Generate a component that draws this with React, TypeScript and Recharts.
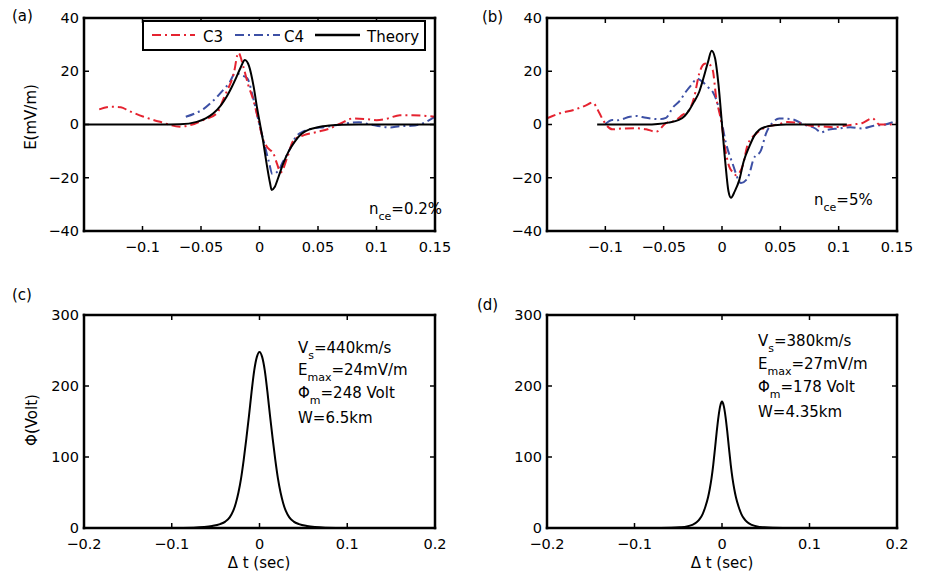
import React from 'react';
import { LineChart, Line, XAxis, YAxis } from 'recharts';

const FONT = '"DejaVu Sans", "Liberation Sans", sans-serif';
const RED = '#e52330';
const BLUE = '#3d50a5';

// ---- Panel (a): electric field, n_ce = 0.2%
const aTheoryT = [-0.15, -0.085, -0.068, -0.0536, -0.046, -0.0394, -0.033, -0.028, -0.024, -0.02, -0.016, -0.0125, -0.009, -0.005, -0.002, 0.0005, 0.003, 0.006, 0.009, 0.0104, 0.013, 0.016, 0.02, 0.025, 0.03, 0.036, 0.043, 0.05, 0.06, 0.07, 0.085, 0.15];
const aTheoryE = [0, 0, 0.1, 1, 2.3, 4.2, 7.2, 10.5, 13.8, 17.5, 21.5, 24.2, 22, 14.2, 6, 0, -6, -14.5, -22, -24.6, -23.5, -20, -15, -10, -6.5, -3.5, -1.8, -1, -0.4, -0.1, 0, 0];
const aC3T = [-0.137, -0.127, -0.1185, -0.112, -0.099, -0.085, -0.068, -0.059, -0.048, -0.0365, -0.03, -0.022, -0.018, -0.0138, -0.0096, -0.0053, -0.001, 0.0032, 0.0075, 0.0118, 0.015, 0.018, 0.024, 0.029, 0.038, 0.049, 0.06, 0.072, 0.08, 0.092, 0.1, 0.11, 0.12, 0.131, 0.143, 0.15];
const aC3E = [5.7, 6.7, 6.5, 5.2, 2.9, 1, -0.8, -0.2, 1.7, 4.2, 10.5, 19.2, 26.9, 21.7, 14.8, 9.2, 1.7, -5.8, -9, -10.8, -14.8, -18, -12, -6, -4, -2.8, -1.5, 1, 2.3, 2, 1.6, 2.3, 3.5, 3.5, 3.2, 2.9];
const aC4T = [-0.063, -0.055, -0.048, -0.042, -0.036, -0.031, -0.026, -0.0205, -0.0155, -0.0105, -0.005, 0.001, 0.004, 0.008, 0.011, 0.016, 0.02, 0.024, 0.031, 0.038, 0.046, 0.055, 0.065, 0.075, 0.085, 0.095, 0.105, 0.112, 0.12, 0.13, 0.14, 0.15];
const aC4E = [2.9, 4.2, 5.8, 8, 10.5, 13, 15.5, 19.3, 18.5, 17.4, 9.2, -2, -7, -14, -18.6, -17.4, -14, -11, -4.7, -2.5, -1.5, -1, -0.3, 0.5, 0.8, 0, -0.8, -1.1, -0.6, -0.5, 0.5, 3];

// ---- Panel (b): electric field, n_ce = 5%
const bTheoryT = [-0.107, -0.065, -0.055, -0.046, -0.037, -0.032, -0.028, -0.024, -0.0195, -0.0155, -0.012, -0.0089, -0.006, -0.003, 0, 0.003, 0.0055, 0.0077, 0.011, 0.0148, 0.0185, 0.0234, 0.028, 0.032, 0.038, 0.045, 0.055, 0.107];
const bTheoryE = [0, 0, 0.2, 0.7, 1.7, 3.2, 5.5, 8.5, 12.3, 18, 23.5, 27.7, 25, 15, 0, -15, -25, -27.5, -25, -20.9, -14, -8.3, -4, -2, -0.8, -0.3, 0, 0];
const bC3T = [-0.15, -0.139, -0.127, -0.117, -0.111, -0.105, -0.102, -0.094, -0.085, -0.074, -0.065, -0.0566, -0.048, -0.04, -0.0338, -0.028, -0.0237, -0.0195, -0.015, -0.0123, -0.008, -0.0051, -0.0009, 0.0034, 0.0063, 0.0105, 0.012, 0.0177, 0.022, 0.029, 0.0377, 0.048, 0.056, 0.066, 0.076, 0.086, 0.096, 0.105, 0.112, 0.12, 0.129, 0.135, 0.142, 0.15];
const bC3E = [2.3, 4.2, 5.5, 7.1, 8.2, 4.2, 1.7, -1.8, -1.5, -1.4, -1.8, -2.7, 0.5, 1.5, 3.6, 5.5, 10.5, 19.2, 22.8, 23, 20.5, 10.5, 1.7, -10.8, -15.9, -18.4, -19.1, -15.5, -7.6, -3.6, -1, 0, 0.9, 0.5, -0.5, -0.7, -1, -0.5, 0, 0.5, 2.3, 0, 0, 0.5];
const bC4T = [-0.1, -0.094, -0.0895, -0.079, -0.074, -0.065, -0.054, -0.048, -0.042, -0.036, -0.031, -0.026, -0.0215, -0.0166, -0.012, -0.008, -0.0023, 0.0034, 0.009, 0.0163, 0.0206, 0.0234, 0.027, 0.0334, 0.0377, 0.043, 0.049, 0.06, 0.07, 0.08, 0.085, 0.09, 0.1, 0.11, 0.12, 0.13, 0.14, 0.15];
const bC4E = [0.2, 1.7, 1.6, 2.9, 3.2, 2.5, 2, 2.5, 6.5, 9, 12.3, 15, 17.2, 16, 14, 12.3, 5.5, -7, -14.6, -22, -20.9, -18.6, -13, -9.7, -3.4, 0.5, 2.3, 2, 0, -1.5, -3, -2, -1.5, -1, -1.5, -0.5, 0, 1.5];

// ---- Panel (c): potential
const cPhiT = [-0.2, -0.1, -0.09, -0.075, -0.063, -0.054, -0.045, -0.039, -0.034, -0.03, -0.027, -0.024, -0.021, -0.018, -0.015, -0.012, -0.009, -0.006, -0.003, 0, 0.003, 0.006, 0.009, 0.012, 0.015, 0.018, 0.021, 0.024, 0.027, 0.03, 0.034, 0.039, 0.045, 0.054, 0.063, 0.075, 0.09, 0.1, 0.2];
const cPhiV = [0, 0, 0.1, 0.4, 1.3, 2.8, 5.5, 9, 15, 24, 35, 50, 70, 96, 126, 158, 192, 222, 241, 248, 241, 222, 192, 158, 126, 96, 70, 50, 35, 24, 15, 9, 5.5, 2.8, 1.3, 0.4, 0.1, 0, 0];

// ---- Panel (d): potential
const dPhiT = [-0.2, -0.07, -0.058, -0.048, -0.04, -0.034, -0.029, -0.025, -0.022, -0.019, -0.016, -0.014, -0.012, -0.01, -0.008, -0.006, -0.004, -0.002, 0, 0.002, 0.004, 0.006, 0.008, 0.01, 0.012, 0.014, 0.016, 0.019, 0.022, 0.025, 0.029, 0.034, 0.04, 0.048, 0.058, 0.07, 0.2];
const dPhiV = [0, 0, 0.2, 0.9, 2.2, 4.5, 8, 13.5, 20, 30, 43, 55, 70, 89, 112, 136, 157, 172, 178, 172, 157, 136, 112, 89, 70, 55, 43, 30, 20, 13.5, 8, 4.5, 2.2, 0.9, 0.2, 0, 0];

// ---- Axes
const eXTicks = [-0.15, -0.1, -0.05, 0, 0.05, 0.1, 0.15];
const eYTicks = [-40, -20, 0, 20, 40];
const pXTicks = [-0.2, -0.1, 0, 0.1, 0.2];
const pYTicks = [0, 100, 200, 300];
const eXDomain = [-0.15, 0.15];
const eYDomain = [-40, 40];
const pXDomain = [-0.2, 0.2];
const pYDomain = [0, 300];
const hiddenXLabels = [-0.15];

const legendLabels = ['C3', 'C4', 'Theory'];

const zip = (t: number[], v: number[]) => t.map((x, i) => ({ t: x, v: v[i] }));
const fmt = (v: number) => String(v).replace('-', '\u2212');

const TICK_FS = 14.5;
const TL = 5;

const BottomTick = (p: any) => {
  const { x, y, payload } = p;
  const show = !hiddenXLabels.includes(payload.value);
  return (
    <g>
      <line x1={x} x2={x} y1={y} y2={y - TL} stroke="#000" strokeWidth={1.5} />
      {show && (
        <text x={x} y={y + 21} textAnchor="middle" fontSize={TICK_FS} fontFamily={FONT} fill="#000">
          {fmt(payload.value)}
        </text>
      )}
    </g>
  );
};
const TopTick = (p: any) => {
  const { x, y } = p;
  return <line x1={x} x2={x} y1={y} y2={y + TL} stroke="#000" strokeWidth={1.5} />;
};
const LeftTick = (p: any) => {
  const { x, y, payload } = p;
  return (
    <g>
      <line x1={x} x2={x + TL} y1={y} y2={y} stroke="#000" strokeWidth={1.5} />
      <text x={x - 5} y={y} dy="0.34em" textAnchor="end" fontSize={TICK_FS} fontFamily={FONT} fill="#000">
        {fmt(payload.value)}
      </text>
    </g>
  );
};
const RightTick = (p: any) => {
  const { x, y } = p;
  return <line x1={x} x2={x - TL} y1={y} y2={y} stroke="#000" strokeWidth={1.5} />;
};

const axisLine = { stroke: '#000', strokeWidth: 2.5, strokeLinecap: 'square' as const };

type Series = { key: string; data: { t: number; v: number }[]; color: string; dash?: string };

function Panel(props: {
  left: number; top: number; width: number; height: number; mTop: number; mRight: number;
  yW: number; xH: number; xDomain: number[]; yDomain: number[]; xTicks: number[]; yTicks: number[]; series: Series[];
}) {
  const { left, top, width, height, mTop, mRight, yW, xH, xDomain, yDomain, xTicks, yTicks, series } = props;
  return (
    <div style={{ position: 'absolute', left, top, width, height }}>
      <LineChart width={width} height={height} margin={{ top: mTop, right: mRight, left: 0, bottom: 0 }}>
        <XAxis xAxisId="b" dataKey="t" type="number" domain={xDomain} ticks={xTicks} interval={0}
          height={xH} tickSize={0} tickMargin={0} tickLine={false} axisLine={axisLine}
          tick={(p: any) => <BottomTick {...p} />} allowDataOverflow />
        <XAxis xAxisId="t" orientation="top" dataKey="t" type="number" domain={xDomain} ticks={xTicks} interval={0}
          height={1} tickSize={0} tickMargin={0} tickLine={false} axisLine={axisLine}
          tick={(p: any) => <TopTick {...p} />} allowDataOverflow />
        <YAxis yAxisId="l" type="number" domain={yDomain} ticks={yTicks} interval={0}
          width={yW} tickSize={0} tickMargin={0} tickLine={false} axisLine={axisLine}
          tick={(p: any) => <LeftTick {...p} />} allowDataOverflow />
        <YAxis yAxisId="r" orientation="right" type="number" domain={yDomain} ticks={yTicks} interval={0}
          width={1} tickSize={0} tickMargin={0} tickLine={false} axisLine={axisLine}
          tick={(p: any) => <RightTick {...p} />} allowDataOverflow />
        {series.map((s) => (
          <Line key={s.key} xAxisId="b" yAxisId="l" data={s.data} dataKey="v" type="monotone"
            stroke={s.color} strokeWidth={2} strokeDasharray={s.dash} dot={false} activeDot={false}
            isAnimationActive={false} />
        ))}
      </LineChart>
    </div>
  );
}

const DASH = '9 4 2 4';

const Sub = ({ x, y, main, sub, rest, fs = 15 }: { x: number; y: number; main: string; sub: string; rest: string; fs?: number }) => (
  <text x={x} y={y} fontSize={fs} fontFamily={FONT} fill="#000">
    {main}
    <tspan dy={6} fontSize={11}>{sub}</tspan>
    <tspan dy={-6} fontSize={fs}>{rest}</tspan>
  </text>
);

export default function App() {
  return (
    <div style={{ position: 'absolute', left: 0, top: 0, width: 925, height: 577, background: '#fff' }}>
      <Panel left={0} top={0} width={460} height={290} mTop={17} mRight={24} yW={84} xH={59}
        xDomain={eXDomain} yDomain={eYDomain} xTicks={eXTicks} yTicks={eYTicks}
        series={[
          { key: 'c4', data: zip(aC4T, aC4E), color: BLUE, dash: DASH },
          { key: 'c3', data: zip(aC3T, aC3E), color: RED, dash: DASH },
          { key: 'th', data: zip(aTheoryT, aTheoryE), color: '#000' },
        ]} />
      <Panel left={461} top={0} width={464} height={290} mTop={17} mRight={27} yW={86} xH={59}
        xDomain={eXDomain} yDomain={eYDomain} xTicks={eXTicks} yTicks={eYTicks}
        series={[
          { key: 'c4', data: zip(bC4T, bC4E), color: BLUE, dash: DASH },
          { key: 'c3', data: zip(bC3T, bC3E), color: RED, dash: DASH },
          { key: 'th', data: zip(bTheoryT, bTheoryE), color: '#000' },
        ]} />
      <Panel left={0} top={290} width={460} height={287} mTop={24} mRight={24} yW={84} xH={49}
        xDomain={pXDomain} yDomain={pYDomain} xTicks={pXTicks} yTicks={pYTicks}
        series={[{ key: 'phi', data: zip(cPhiT, cPhiV), color: '#000' }]} />
      <Panel left={461} top={290} width={464} height={287} mTop={24} mRight={27} yW={86} xH={49}
        xDomain={pXDomain} yDomain={pYDomain} xTicks={pXTicks} yTicks={pYTicks}
        series={[{ key: 'phi', data: zip(dPhiT, dPhiV), color: '#000' }]} />

      <svg width={925} height={577} style={{ position: 'absolute', left: 0, top: 0, pointerEvents: 'none' }}>
        <g fontFamily={FONT} fontSize={15} fill="#000">
          <text x={12} y={21}>(a)</text>
          <text x={482} y={22}>(b)</text>
          <text x={12} y={300}>(c)</text>
          <text x={477} y={310}>(d)</text>

          <text transform="translate(36,117) rotate(-90)" textAnchor="middle">E(mV/m)</text>
          <text transform="translate(37,420) rotate(-90)" textAnchor="middle">Φ(Volt)</text>
          <text x={259} y={568} textAnchor="middle">Δ t (sec)</text>
          <text x={722} y={568} textAnchor="middle">Δ t (sec)</text>
        </g>

        {/* legend */}
        <rect x={143} y={21} width={282} height={29} fill="#fff" stroke="#000" strokeWidth={2} />
        <line x1={152} x2={195} y1={35} y2={35} stroke={RED} strokeWidth={2} strokeDasharray={DASH} />
        <text x={203} y={42} fontFamily={FONT} fontSize={15}>{legendLabels[0]}</text>
        <line x1={235} x2={280} y1={35} y2={35} stroke={BLUE} strokeWidth={2} strokeDasharray={DASH} />
        <text x={284} y={42} fontFamily={FONT} fontSize={15}>{legendLabels[1]}</text>
        <line x1={315} x2={360} y1={35} y2={35} stroke="#000" strokeWidth={2.5} />
        <text x={367} y={42} fontFamily={FONT} fontSize={15}>{legendLabels[2]}</text>

        <Sub x={369} y={214} main="n" sub="ce" rest="=0.2%" />
        <Sub x={814} y={205} main="n" sub="ce" rest="=5%" />

        <Sub x={298} y={353} main="V" sub="s" rest="=440km/s" />
        <Sub x={298} y={375} main="E" sub="max" rest="=24mV/m" />
        <Sub x={298} y={398} main="Φ" sub="m" rest="=248 Volt" />
        <text x={298} y={423} fontFamily={FONT} fontSize={15}>W=6.5km</text>

        <Sub x={758} y={346} main="V" sub="s" rest="=380km/s" />
        <Sub x={758} y={369} main="E" sub="max" rest="=27mV/m" />
        <Sub x={758} y={392} main="Φ" sub="m" rest="=178 Volt" />
        <text x={758} y={417} fontFamily={FONT} fontSize={15}>W=4.35km</text>
      </svg>
    </div>
  );
}
